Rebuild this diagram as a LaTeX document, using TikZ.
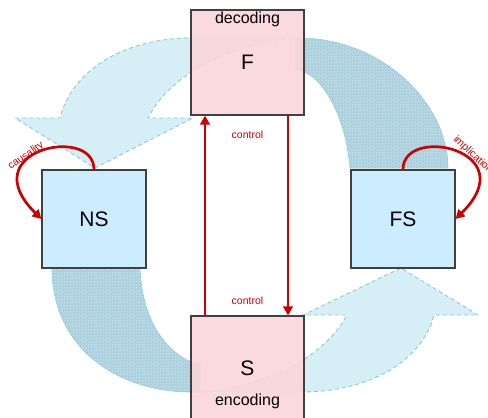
\documentclass[tikz,border=0pt]{standalone}
\usepackage{fontspec}
\setmainfont{Liberation Sans}
\usepackage{tikz}
\usetikzlibrary{arrows.meta,positioning,patterns}

\definecolor{pinkbox}{RGB}{250,214,218}
\definecolor{bluebox}{RGB}{204,236,255}
\definecolor{ringlight}{RGB}{214,238,246}
\definecolor{ringdark}{RGB}{170,208,222}
\definecolor{ringedge}{RGB}{140,202,214}
\definecolor{ctrlred}{RGB}{204,0,0}

\tikzset{
  sqpink/.style={ draw=black!75, line width=1.1pt, fill=pinkbox, fill opacity=0.9, text opacity=1,
    minimum width=113pt, minimum height=105pt, font=\fontsize{21}{25}\selectfont }
}
\tikzset{
  sqblue/.style={ draw=black!75, line width=1.1pt, fill=bluebox,
    minimum width=104pt, minimum height=98pt, font=\fontsize{21}{25}\selectfont }
}
\tikzset{
  ringA/.style={ draw=ringedge, line width=0.9pt, dash pattern=on 4pt off 3pt, fill=ringlight }
}
\tikzset{
  ringB/.style={ draw=ringedge, line width=0.6pt, fill=ringdark,
    postaction={pattern=crosshatch dots, pattern color=white!55!ringdark} }
}
\tikzset{
  redarr/.style={ draw=ctrlred, line width=2.7pt, -{Triangle[length=9pt,width=9.5pt]} }
}
\tikzset{
  redlbl/.style={ text=ctrlred, inner sep=0pt, font=\fontsize{10.5}{12}\selectfont }
}

\begin{document}
\begin{tikzpicture}[x=1pt, y=-1pt]
      \useasboundingbox (0,0) rectangle (488,418);

      % the four flows round the cycle
      \draw[ringA] (300,38) -- (191,38) .. controls (125,38) and (72,70) .. (60,118)
        -- (15,118) -- (95,168) -- (193,118) -- (148,118)
        .. controls (175,65) and (250,40) .. (300,38) -- cycle;
      \draw[ringB] (296,38) -- (302,38) .. controls (385,40) and (448,105) .. (448,168)
        -- (350,168) .. controls (345,110) and (320,78) .. (304,72) -- (296,70) -- cycle;
      \draw[ringB] (52,268) .. controls (52,350) and (120,392) .. (191,392) -- (200,392)
        -- (200,364) -- (191,362) .. controls (165,350) and (142,320) .. (140,268) -- cycle;
      \draw[ringA] (195,392) -- (302,392) .. controls (368,392) and (422,362) .. (434,315)
        -- (478,315) -- (401,268) -- (303,315) -- (347,315)
        .. controls (320,365) and (250,390) .. (195,392) -- cycle;

      \node[sqpink, label={[anchor=north, inner sep=2pt, font=\fontsize{16}{18}\selectfont]north:decoding}] (f) at (247.5,62.5) {F};
      \node[sqpink, label={[anchor=center, yshift=20pt, font=\fontsize{16}{18}\selectfont]south:encoding}] (s) at (247.5,368.5) {S};
      \node[sqblue] (ns) at (94,219) {NS};
      \node[sqblue] (fs) at (403,219) {FS};

      \begin{scope}[redarr]
        \draw ([xshift=-42.5pt]s.north) -- ([xshift=-42.5pt]f.south);
        \draw ([xshift=40.5pt]f.south) -- ([xshift=40.5pt]s.north);
        \draw (ns.north) .. controls +(0,-45) and +(-70,-69) .. (ns.west);
        \draw (fs.north) .. controls +(0,-45) and +(70,-69) .. (fs.east);
      \end{scope}

      \node[redlbl, below=15pt of f] (ctrlF) {control};
      \node[redlbl, above=11pt of s] (ctrlS) {control};
      \node[redlbl, rotate=35] (caus) at (26,156) {causality};
      \node[redlbl, rotate=-43] (impl) at (473,155) {implication};
    \end{tikzpicture}
\end{document}
